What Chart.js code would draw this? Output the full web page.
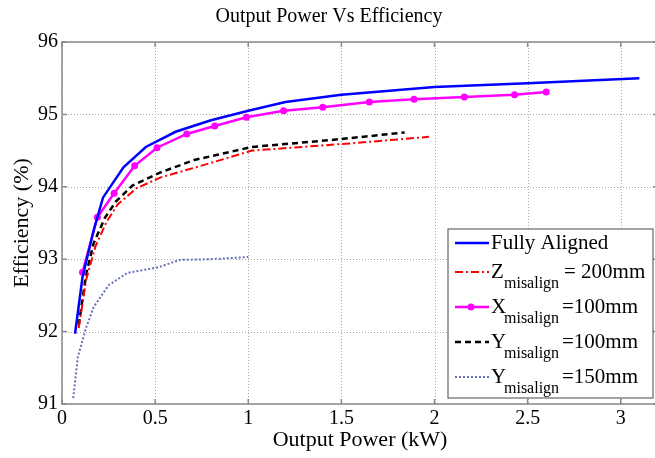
<!DOCTYPE html>
<html>
<head>
<meta charset="utf-8">
<script src="https://cdn.jsdelivr.net/npm/chart.js@4.4.1/dist/chart.umd.min.js"></script>
<style>
html,body{margin:0;padding:0;background:#fff;overflow:hidden;}
#wrap{width:662px;height:458px;}
</style>
</head>
<body>
<div id="wrap"><canvas id="c" width="662" height="458"></canvas></div>
<script>
// ---- data ----
const xTickLabels = ["0", "0.5", "1", "1.5", "2", "2.5", "3"];
const yTickLabels = ["91", "92", "93", "94", "95", "96"];

const fullyX = [0.07, 0.11, 0.17, 0.22, 0.33, 0.45, 0.61, 0.80, 1.00, 1.20, 1.50, 2.00, 2.50, 3.10];
const fullyY = [91.97, 92.75, 93.40, 93.85, 94.27, 94.55, 94.76, 94.92, 95.05, 95.17, 95.27, 95.38, 95.43, 95.50];

const zX = [0.09, 0.13, 0.18, 0.24, 0.30, 0.40, 0.53, 0.80, 1.02, 1.55, 1.97];
const zY = [92.05, 92.72, 93.18, 93.52, 93.76, 93.98, 94.13, 94.33, 94.50, 94.60, 94.69];

const xmX = [0.11, 0.19, 0.28, 0.39, 0.51, 0.67, 0.82, 0.99, 1.19, 1.40, 1.65, 1.89, 2.16, 2.43, 2.60];
const xmY = [92.82, 93.58, 93.91, 94.29, 94.54, 94.73, 94.84, 94.96, 95.05, 95.10, 95.17, 95.21, 95.24, 95.27, 95.31];

const y100X = [0.09, 0.13, 0.17, 0.23, 0.29, 0.38, 0.52, 0.71, 1.02, 1.46, 1.84];
const y100Y = [92.09, 92.80, 93.22, 93.57, 93.80, 94.02, 94.19, 94.37, 94.55, 94.65, 94.75];

const y150X = [0.06, 0.085, 0.13, 0.17, 0.25, 0.35, 0.52, 0.63, 0.80, 1.00];
const y150Y = [91.08, 91.65, 92.06, 92.34, 92.64, 92.81, 92.89, 92.99, 93.00, 93.03];

const legendMain = ["Fully Aligned", "Z", "X", "Y", "Y"];
const legendSub  = ["", "misalign", "misalign", "misalign", "misalign"];
const legendRest = ["", "= 200mm", "=100mm", "=100mm", "=150mm"];

const pts = (xs, ys) => xs.map((x, i) => ({x: x, y: ys[i]}));
const SERIF = '"Liberation Serif", "Times New Roman", serif';

const styles = [
  {color: '#0000ff', width: 2.5, dash: [], marker: false},
  {color: '#ff0000', width: 2, dash: [8, 3, 2, 3], marker: false},
  {color: '#ff00ff', width: 2.5, dash: [], marker: true},
  {color: '#000000', width: 2.5, dash: [6, 4], marker: false},
  {color: '#6470b8', width: 2, dash: [2, 2], marker: false}
];

const frameAndLegend = {
  id: 'frameAndLegend',
  beforeDatasetsDraw(chart) {
    const {ctx, chartArea: a, scales} = chart;
    ctx.save();
    ctx.strokeStyle = '#a8a8a8';
    ctx.lineWidth = 1;
    ctx.setLineDash([1, 2]);
    ctx.beginPath();
    scales.x.ticks.forEach(t => {
      const px = Math.round(scales.x.getPixelForValue(t.value)) + 0.5;
      ctx.moveTo(px, a.top); ctx.lineTo(px, a.bottom);
    });
    scales.y.ticks.forEach(t => {
      const py = Math.round(scales.y.getPixelForValue(t.value)) + 0.5;
      ctx.moveTo(a.left, py); ctx.lineTo(a.right, py);
    });
    ctx.stroke();
    ctx.restore();
  },
  afterDatasetsDraw(chart) {
    const {ctx, chartArea: a, scales} = chart;
    ctx.save();
    // frame
    ctx.strokeStyle = '#8a8a8a';
    ctx.lineWidth = 1.5;
    ctx.setLineDash([]);
    ctx.strokeRect(a.left, a.top, a.right - a.left, a.bottom - a.top);
    // inward ticks
    ctx.beginPath();
    scales.x.ticks.forEach(t => {
      const px = scales.x.getPixelForValue(t.value);
      ctx.moveTo(px, a.bottom); ctx.lineTo(px, a.bottom - 5);
      ctx.moveTo(px, a.top); ctx.lineTo(px, a.top + 5);
    });
    scales.y.ticks.forEach(t => {
      const py = scales.y.getPixelForValue(t.value);
      ctx.moveTo(a.left, py); ctx.lineTo(a.left + 5, py);
      ctx.moveTo(a.right, py); ctx.lineTo(a.right - 5, py);
    });
    ctx.stroke();

    // legend
    const bx = 448, by = 229, bw = 205, bh = 169;
    ctx.fillStyle = '#ffffff';
    ctx.fillRect(bx, by, bw, bh);
    ctx.strokeStyle = '#666666';
    ctx.lineWidth = 1.2;
    ctx.strokeRect(bx, by, bw, bh);
    const rowsY = [243, 272, 307, 342, 377];
    for (let i = 0; i < 5; i++) {
      const s = styles[i];
      const y = rowsY[i];
      ctx.strokeStyle = s.color;
      ctx.lineWidth = s.width;
      ctx.setLineDash(s.dash);
      ctx.beginPath();
      ctx.moveTo(455, y); ctx.lineTo(489, y);
      ctx.stroke();
      ctx.setLineDash([]);
      if (s.marker) {
        ctx.fillStyle = s.color;
        ctx.beginPath(); ctx.arc(471, y, 3.5, 0, Math.PI * 2); ctx.fill();
      }
      ctx.fillStyle = '#000';
      ctx.textBaseline = 'middle';
      ctx.textAlign = 'left';
      ctx.font = '21px ' + SERIF;
      ctx.fillText(legendMain[i], 491, y);
      if (legendSub[i]) {
        ctx.font = '16px ' + SERIF;
        ctx.fillText(legendSub[i], 504, y + 12);
        ctx.font = '21px ' + SERIF;
        const rx = i === 1 ? 564 : 562;
        ctx.fillText(legendRest[i], rx, y);
      }
    }
    ctx.restore();
  }
};

const mkDs = (label, data, s) => ({
  label: label,
  data: data,
  borderColor: s.color,
  backgroundColor: s.color,
  borderWidth: s.width,
  borderDash: s.dash,
  pointRadius: s.marker ? 3.5 : 0,
  pointBackgroundColor: s.color,
  pointBorderWidth: 0,
  tension: 0,
  fill: false
});

new Chart(document.getElementById('c'), {
  type: 'line',
  data: {
    datasets: [
      mkDs('Fully Aligned', pts(fullyX, fullyY), styles[0]),
      mkDs('Z misalign = 200mm', pts(zX, zY), styles[1]),
      mkDs('X misalign =100mm', pts(xmX, xmY), styles[2]),
      mkDs('Y misalign =100mm', pts(y100X, y100Y), styles[3]),
      mkDs('Y misalign =150mm', pts(y150X, y150Y), styles[4])
    ]
  },
  options: {
    responsive: false,
    animation: false,
    devicePixelRatio: 1,
    layout: {padding: {left: 0, right: 4, top: 0, bottom: 0}},
    plugins: {
      legend: {display: false},
      tooltip: {enabled: false},
      title: {
        display: true,
        text: 'Output Power Vs Efficiency',
        color: '#000',
        font: {family: SERIF, size: 20, weight: 'normal'},
        padding: {top: 5, bottom: 13}
      }
    },
    scales: {
      x: {
        type: 'linear',
        min: 0, max: 3.2,
        afterFit(scale) { scale.height = 54; },
        afterBuildTicks(scale) {
          scale.ticks = xTickLabels.map(v => ({value: parseFloat(v)}));
        },
        ticks: {
          color: '#000', padding: 3, maxRotation: 0, autoSkip: false,
          font: {family: SERIF, size: 20},
          callback: (v, i) => xTickLabels[i]
        },
        grid: {display: false, drawTicks: false},
        border: {display: false},
        title: {
          display: true, text: 'Output Power (kW)', color: '#000',
          font: {family: SERIF, size: 22}, padding: {top: 0, bottom: 5}
        }
      },
      y: {
        type: 'linear',
        min: 91, max: 96,
        afterFit(scale) { scale.width = 62; },
        afterBuildTicks(scale) {
          scale.ticks = yTickLabels.map(v => ({value: parseFloat(v)}));
        },
        ticks: {
          color: '#000', padding: 4, autoSkip: false,
          font: {family: SERIF, size: 20},
          callback: (v, i) => yTickLabels[i]
        },
        grid: {display: false, drawTicks: false},
        border: {display: false},
        title: {
          display: true, text: 'Efficiency (%)', color: '#000',
          font: {family: SERIF, size: 22}, padding: {top: 9, bottom: 0}
        }
      }
    }
  },
  plugins: [frameAndLegend]
});
</script>
</body>
</html>
